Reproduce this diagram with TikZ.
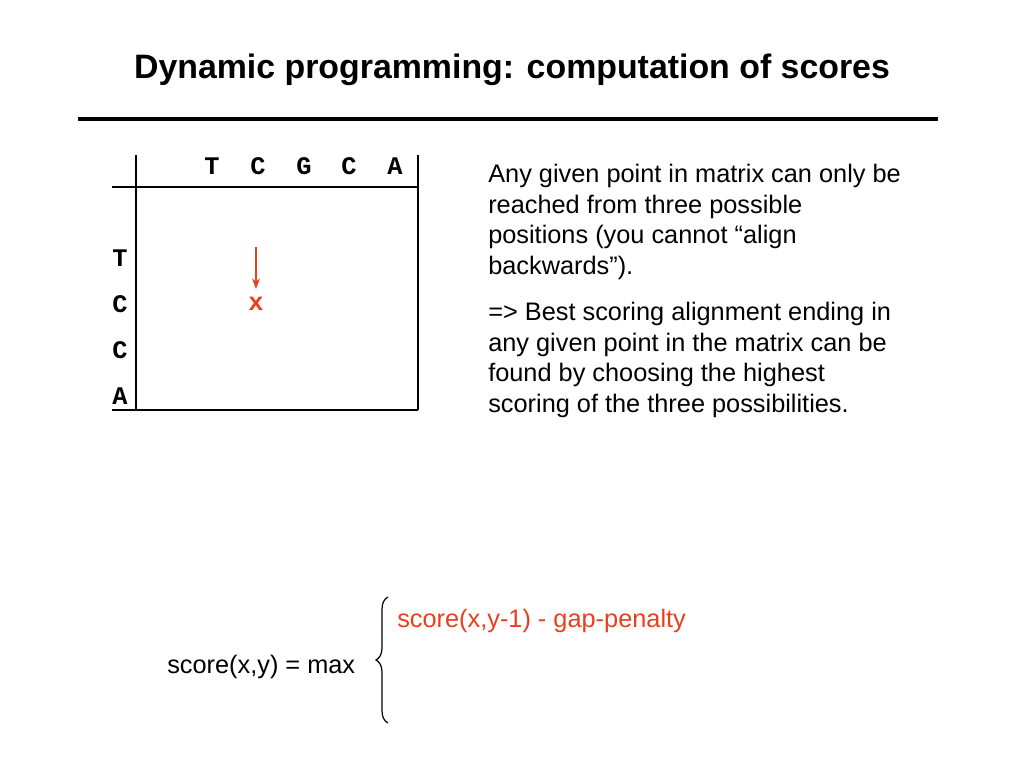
\documentclass[tikz,border=0pt]{standalone}
\usepackage{fontspec}
\setmainfont{Liberation Sans}
\setmonofont{Liberation Mono}
\usetikzlibrary{decorations.pathreplacing,arrows.meta}
\definecolor{hired}{RGB}{232,64,28}
\tikzset{
  seq/.style={font=\ttfamily\bfseries\fontsize{19}{21}\selectfont, inner sep=0pt},
  grid line/.style={line width=1.6pt},
  body/.style={font=\fontsize{19}{23.1}\selectfont, align=left, anchor=west, inner sep=0pt},
}
\begin{document}
\begin{tikzpicture}[x=0.75pt, y=-0.75pt]
\useasboundingbox (0,0) rectangle (1024,768);
% title
\node[font=\bfseries\fontsize{25.4}{29}\selectfont] (title) at (512,70) {Dynamic programming: computation of scores};
\coordinate (rl) at (78,119);
\coordinate (rr) at (938,119);
\draw[line width=3pt] (rl) -- (rr);
% matrix frame
\coordinate (tl) at (136,155);
\coordinate (bl) at (136,410);
\coordinate (tr) at (418,155);
\coordinate (br) at (418,410);
\coordinate (hl) at (112,187);
\coordinate (hr) at (418,187);
\coordinate (fl) at (112,410);
\draw[grid line] (tl) -- (bl);
\draw[grid line] (tr) -- (br);
\draw[grid line] (hl) -- (hr);
\draw[grid line] (fl) -- (br);
% sequences
\foreach \c/\x [count=\i] in {T/212, C/258, G/304, C/349, A/395}
  \node[seq] (col\i) at (\x,166) {\c};
\foreach \c/\y [count=\i] in {T/258, C/304, C/350, A/396}
  \node[seq] (row\i) at (120,\y) {\c};
% current cell
\node[seq, text=hired] (x) at (256,304) {x};
\coordinate (up) at (256,247);
\draw[hired, line width=1.2pt, -{Stealth[length=8pt,width=6pt]}] (up) -- ([yshift=6pt]x.north);
% explanation
\node[body] (p1) at (488,222) {Any given point in matrix can only be\\reached from three possible\\positions (you cannot “align\\backwards”).};
\node[body] (p2) at (488,360) {=> Best scoring alignment ending in\\any given point in the matrix can be\\found by choosing the highest\\scoring of the three possibilities.};
% formula
\node[body] (lhs) at (167,667) {score(x,y) = max};
\coordinate (bt) at (388,597);
\coordinate (bb) at (388,723);
\draw[line width=0.9pt, decorate, decoration={brace, amplitude=9pt}] (bb) -- (bt);
\node[body, text=hired] (gap) at (397,621) {score(x,y-1) - gap-penalty};
\end{tikzpicture}
\end{document}
